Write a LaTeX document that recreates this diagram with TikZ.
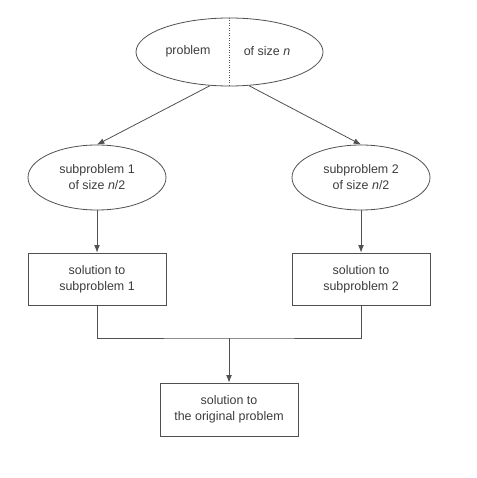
\documentclass[tikz,border=0pt]{standalone}
\usepackage{fontspec}
\setmainfont{Liberation Sans}
\usetikzlibrary{shapes.geometric,arrows.meta,positioning}
\definecolor{linegray}{HTML}{505050}
\definecolor{textgray}{HTML}{3C3C3C}
\tikzset{prob node/.style={ellipse,draw=linegray,line width=0.8pt,inner sep=0pt,align=center,text=textgray,font=\fontsize{12.5}{16}\selectfont},
         sol node/.style={rectangle,draw=linegray,line width=0.8pt,inner sep=0pt,align=center,text=textgray,font=\fontsize{12.5}{16}\selectfont},
         word/.style={rectangle,draw=none,fill=none,text=textgray,font=\fontsize{12.5}{16}\selectfont},
         link/.style={draw=linegray,line width=0.8pt,-{Latex[length=2.6mm,width=2mm]}}
}
\begin{document}
\begin{tikzpicture}[x=1bp,y=-1bp]
\useasboundingbox (0,0) rectangle (477,478);
% the problem
\node [prob node,minimum width=187bp,minimum height=68bp] (top) at (229.5,52) {};
\draw [linegray,dotted,line width=0.5pt] (top.north) -- (top.south);
\node [word] (half1) at (188,51) {problem};
\node [word] (half2) at (267,51) {of size \textit{n}};
% subproblems
\node [prob node,minimum width=138bp,minimum height=65bp] (sub1) at (97,177.5) {subproblem 1\\of size \textit{n}/2};
\node [prob node,minimum width=138bp,minimum height=65bp] (sub2) at (361,177.5) {subproblem 2\\of size \textit{n}/2};
% solutions
\node [sol node,minimum width=138bp,minimum height=52bp] (sol1) at (97,279) {solution to\\subproblem 1};
\node [sol node,minimum width=138bp,minimum height=52bp] (sol2) at (361,279) {solution to\\subproblem 2};
\node [sol node,minimum width=138bp,minimum height=53bp] (final) at (229,409.5) {solution to\\the original problem};
\coordinate (join) at (229,338);
% connectors
\draw [link] (top.240) -- (sub1.north);
\draw [link] (top.300) -- (sub2.north);
\draw [link] (sub1.south) -- (sol1.north);
\draw [link] (sub2.south) -- (sol2.north);
\draw [linegray,line width=0.8pt] (sol1.south) |- (join) -| (sol2.south);
\draw [link] (join) -- (final.north);
\end{tikzpicture}
\end{document}
